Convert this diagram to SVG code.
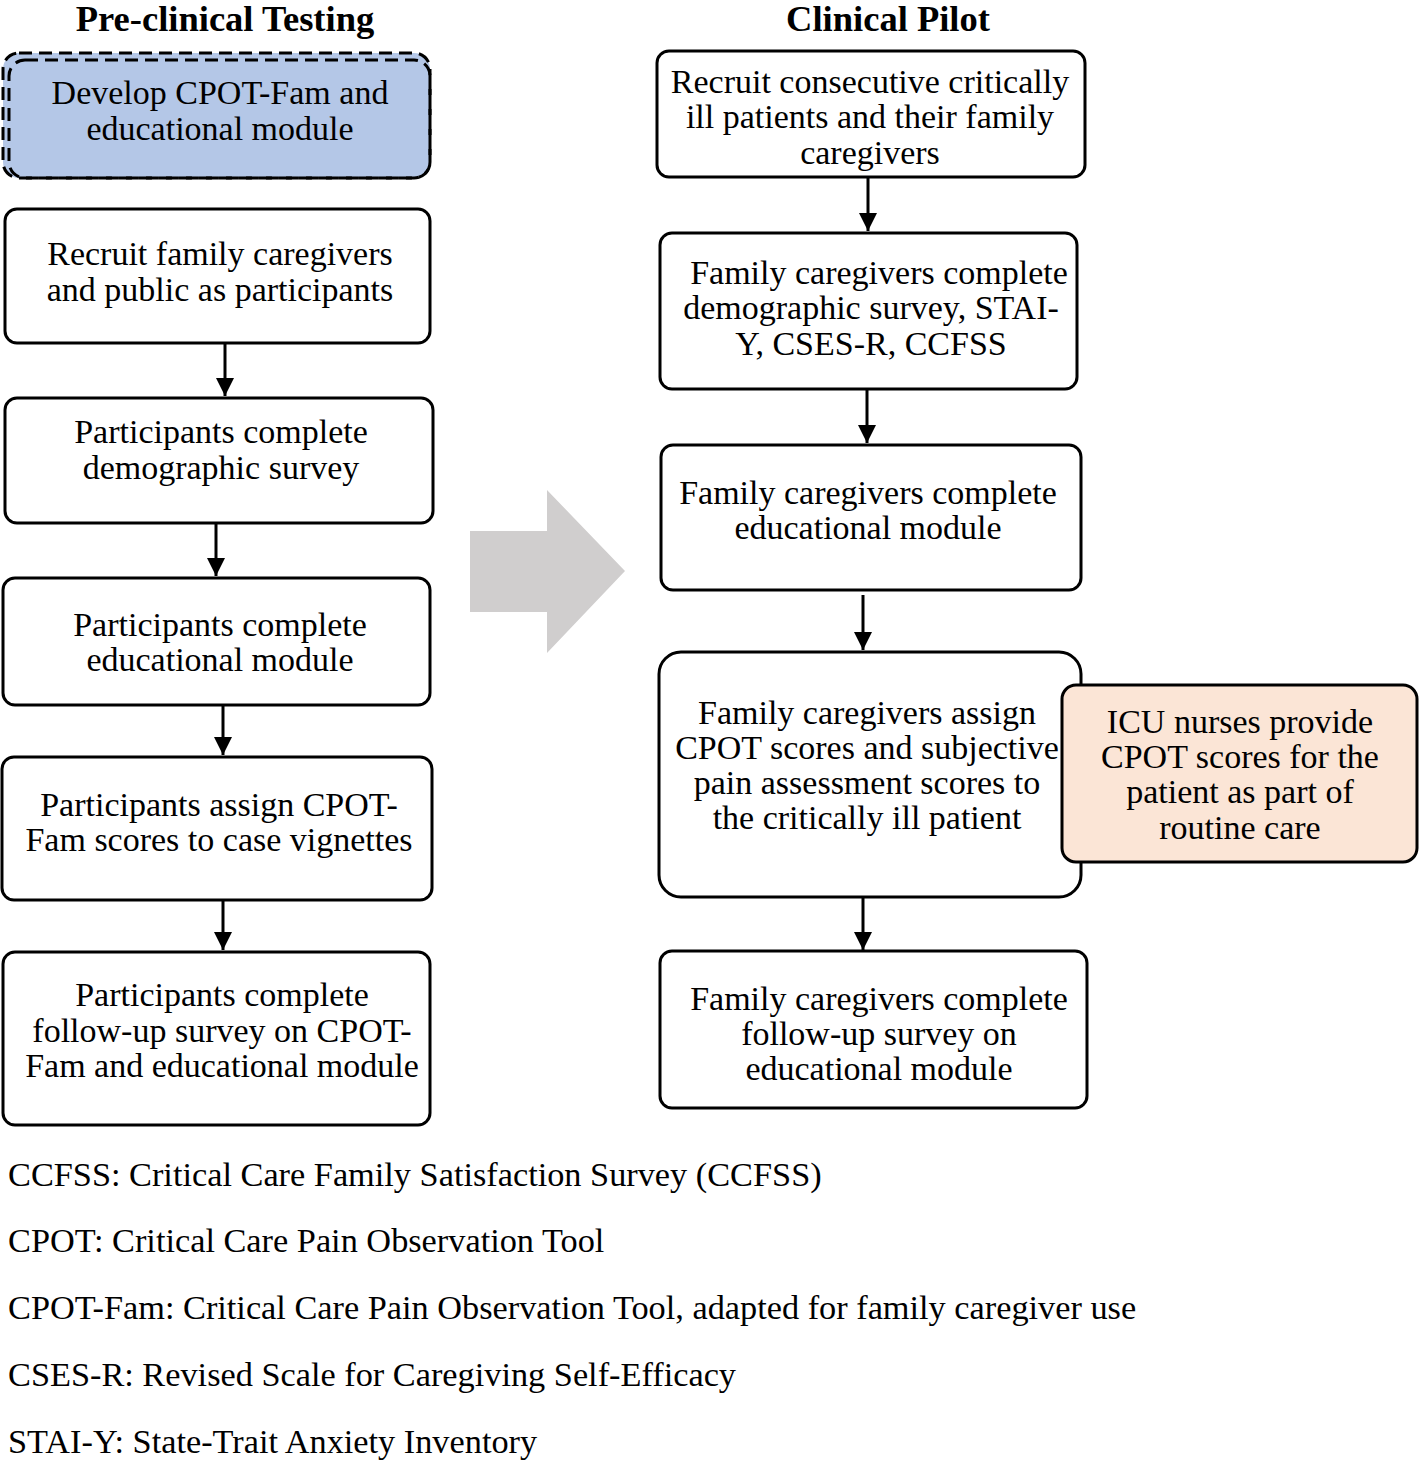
<svg xmlns="http://www.w3.org/2000/svg" width="1424" height="1460" viewBox="0 0 1424 1460">
<defs>
<style>
text{font-family:"Liberation Serif","Times New Roman",serif;font-size:34px;fill:#000}
.t{text-anchor:middle}
.h{font-weight:bold;font-size:36.5px;text-anchor:middle}
.lg{font-size:34.3px}
.box{fill:#fff;stroke:#000;stroke-width:3}
.dash{fill:none;stroke:#000;stroke-width:3;stroke-dasharray:13 7}
.conn line{stroke:#000;stroke-width:3}
</style>
<marker id="ah" viewBox="0 0 10 10" refX="10" refY="5" markerWidth="6" markerHeight="6" markerUnits="strokeWidth" orient="auto">
<path d="M0,0 L10,5 L0,10 z" fill="#000"/>
</marker>
</defs>
<rect width="1424" height="1460" fill="#fff"/>
<text class="h" x="225" y="31">Pre-clinical Testing</text>
<text class="h" x="888" y="31">Clinical Pilot</text>

<g id="n_develop">
<rect x="3" y="53" width="427" height="125" rx="16" fill="#B4C7E7" stroke="none"/>
<rect x="3" y="53" width="427" height="125" rx="16" class="dash"/>
<rect x="9" y="60" width="421" height="118" rx="16" class="dash"/>
<text class="t" x="220" y="104">Develop CPOT-Fam and</text>
<text class="t" x="220" y="140">educational module</text>
</g>
<g id="n_recruit_left">
<rect x="5" y="209" width="425" height="134" rx="12" class="box"/>
<text class="t" x="220" y="265">Recruit family caregivers</text>
<text class="t" x="220" y="301">and public as participants</text>
</g>
<g id="n_demo_left">
<rect x="5" y="398" width="428" height="125" rx="12" class="box"/>
<text class="t" x="221" y="443">Participants complete</text>
<text class="t" x="221" y="479">demographic survey</text>
</g>
<g id="n_edu_left">
<rect x="3" y="578" width="427" height="127" rx="12" class="box"/>
<text class="t" x="220" y="636">Participants complete</text>
<text class="t" x="220" y="671">educational module</text>
</g>
<g id="n_assign_left">
<rect x="2" y="757" width="430" height="143" rx="12" class="box"/>
<text class="t" x="219" y="816">Participants assign CPOT-</text>
<text class="t" x="219" y="851">Fam scores to case vignettes</text>
</g>
<g id="n_follow_left">
<rect x="3" y="952" width="427" height="173" rx="12" class="box"/>
<text class="t" x="222" y="1006">Participants complete</text>
<text class="t" x="222" y="1042">follow-up survey on CPOT-</text>
<text class="t" x="222" y="1077">Fam and educational module</text>
</g>

<g id="n_recruit_right">
<rect x="657" y="51" width="428" height="126" rx="12" class="box"/>
<text class="t" x="870" y="93">Recruit consecutive critically</text>
<text class="t" x="870" y="128">ill patients and their family</text>
<text class="t" x="870" y="164">caregivers</text>
</g>
<g id="n_demo_right">
<rect x="660" y="233" width="417" height="156" rx="12" class="box"/>
<text class="t" x="879" y="284">Family caregivers complete</text>
<text class="t" x="871" y="319">demographic survey, STAI-</text>
<text class="t" x="871" y="355">Y, CSES-R, CCFSS</text>
</g>
<g id="n_edu_right">
<rect x="661" y="445" width="420" height="145" rx="12" class="box"/>
<text class="t" x="868" y="504">Family caregivers complete</text>
<text class="t" x="868" y="539">educational module</text>
</g>
<g id="n_assign_right">
<rect x="659" y="652" width="422" height="245" rx="22" class="box"/>
<text class="t" x="867" y="724">Family caregivers assign</text>
<text class="t" x="867" y="759">CPOT scores and subjective</text>
<text class="t" x="867" y="794">pain assessment scores to</text>
<text class="t" x="867" y="829">the critically ill patient</text>
</g>
<g id="n_icu">
<rect x="1062" y="685" width="355" height="177" rx="14" fill="#FBE5D6" stroke="#000" stroke-width="3"/>
<text class="t" x="1240" y="733">ICU nurses provide</text>
<text class="t" x="1240" y="768">CPOT scores for the</text>
<text class="t" x="1240" y="803">patient as part of</text>
<text class="t" x="1240" y="839">routine care</text>
</g>
<g id="n_follow_right">
<rect x="660" y="951" width="427" height="157" rx="12" class="box"/>
<text class="t" x="879" y="1010">Family caregivers complete</text>
<text class="t" x="879" y="1045">follow-up survey on</text>
<text class="t" x="879" y="1080">educational module</text>
</g>

<g id="n_transition">
<polygon points="470,531 547,531 547,490 625,571 547,653 547,612 470,612" fill="#D0CECE"/>
</g>

<g id="connectors" class="conn">
<line x1="225" y1="343" x2="225" y2="396" marker-end="url(#ah)"/>
<line x1="216" y1="523" x2="216" y2="576" marker-end="url(#ah)"/>
<line x1="223" y1="705" x2="223" y2="755" marker-end="url(#ah)"/>
<line x1="223" y1="900" x2="223" y2="950" marker-end="url(#ah)"/>
<line x1="868" y1="177" x2="868" y2="231" marker-end="url(#ah)"/>
<line x1="867" y1="389" x2="867" y2="443" marker-end="url(#ah)"/>
<line x1="863" y1="595" x2="863" y2="650" marker-end="url(#ah)"/>
<line x1="863" y1="897" x2="863" y2="950" marker-end="url(#ah)"/>
</g>

<g id="legend">
<text class="lg" x="8" y="1186">CCFSS: Critical Care Family Satisfaction Survey (CCFSS)</text>
<text class="lg" x="8" y="1252">CPOT: Critical Care Pain Observation Tool</text>
<text class="lg" x="8" y="1319">CPOT-Fam: Critical Care Pain Observation Tool, adapted for family caregiver use</text>
<text class="lg" x="8" y="1386">CSES-R: Revised Scale for Caregiving Self-Efficacy</text>
<text class="lg" x="8" y="1453">STAI-Y: State-Trait Anxiety Inventory</text>
</g>
</svg>
